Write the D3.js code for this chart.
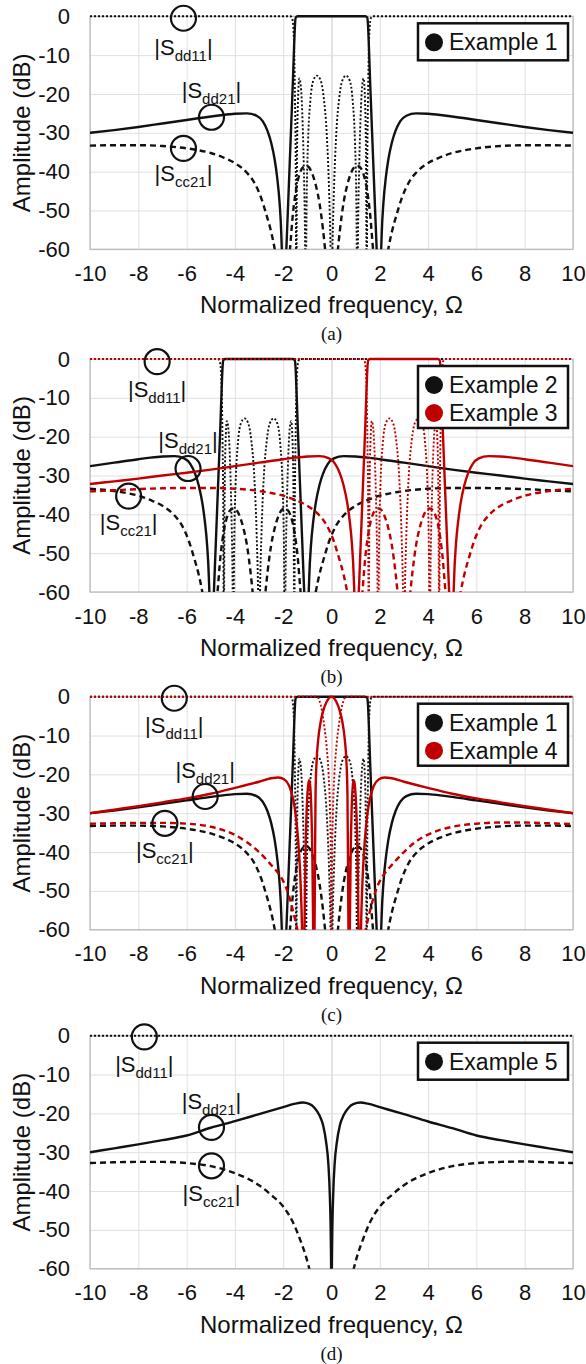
<!DOCTYPE html>
<html>
  <head>
    <meta charset="UTF-8">
    <title>Filter responses</title>
    <style>
      body { margin: 0; background: #fff; }
      text { font-family: "Liberation Sans", Arial, sans-serif; fill: #111; }
    </style>
  </head>
  <body>
    <script src="https://d3js.org/d3.v7.min.js"></script>
    <svg width="586" height="1364" id="chart"></svg>
    <script>

      // tick values
      var xTicks = [-10, -8, -6, -4, -2, 0, 2, 4, 6, 8, 10];
      var yTicks = [0, -10, -20, -30, -40, -50, -60];

      var ex1Sdd11 = [[-10,0],[-1.7,0],[-1.63,-0.5],[-1.58,-3],[-1.54,-10],[-1.51,-22],[-1.48,-40],[-1.46,-75],[-1.43,-38],[-1.39,-22],[-1.33,-16],[-1.27,-18],[-1.21,-25],[-1.15,-38],[-1.1,-55],[-1.07,-75],[-1.03,-48],[-0.97,-32],[-0.88,-22],[-0.75,-16.5],[-0.6,-15.3],[-0.45,-16.5],[-0.32,-21],[-0.2,-30],[-0.1,-45],[-0.04,-60],[0,-80],[0.04,-60],[0.1,-45],[0.2,-30],[0.32,-21],[0.45,-16.5],[0.6,-15.3],[0.75,-16.5],[0.88,-22],[0.97,-32],[1.03,-48],[1.07,-75],[1.1,-55],[1.15,-38],[1.21,-25],[1.27,-18],[1.33,-16],[1.39,-22],[1.43,-38],[1.46,-75],[1.48,-40],[1.51,-22],[1.54,-10],[1.58,-3],[1.63,-0.5],[1.7,0],[10,0]];
      var ex1Sdd21 = [[-10,-30.0],[-9,-29.3],[-8,-28.5],[-7,-27.6],[-6,-26.7],[-5,-25.8],[-4.5,-25.4],[-4,-25.1],[-3.5,-25.0],[-3.1,-25.6],[-2.85,-27],[-2.65,-29.5],[-2.5,-32.5],[-2.35,-37],[-2.25,-41.5],[-2.15,-48],[-2.08,-56],[-2.03,-68],[-2,-85],[-1.95,-72],[-1.87,-60],[-1.8,-49],[-1.7,-33],[-1.6,-17],[-1.55,-8],[-1.51,-2],[-1.48,-0.3],[-1.4,0],[1.4,0],[1.48,-0.3],[1.51,-2],[1.55,-8],[1.6,-17],[1.7,-33],[1.8,-49],[1.87,-60],[1.95,-72],[2,-85],[2.03,-68],[2.08,-56],[2.15,-48],[2.25,-41.5],[2.35,-37],[2.5,-32.5],[2.65,-29.5],[2.85,-27],[3.1,-25.6],[3.5,-25.0],[4,-25.1],[4.5,-25.4],[5,-25.8],[6,-26.7],[7,-27.6],[8,-28.5],[9,-29.3],[10,-30.0]];
      var ex1Scc21 = [[-10,-33.3],[-9,-33.2],[-8,-33.2],[-7,-33.4],[-6,-34.0],[-5.5,-34.5],[-5,-35.2],[-4.5,-36.3],[-4,-37.8],[-3.5,-40.3],[-3.2,-42.8],[-2.9,-47],[-2.7,-51],[-2.5,-55.5],[-2.35,-60],[-2.25,-64],[-2,-80],[-1.85,-68],[-1.72,-60],[-1.6,-51],[-1.45,-44],[-1.3,-40.2],[-1.15,-38.7],[-1.05,-38.5],[-0.95,-38.8],[-0.8,-40.5],[-0.65,-43.5],[-0.5,-48],[-0.35,-55],[-0.25,-61],[-0.12,-70],[0,-80],[0.12,-70],[0.25,-61],[0.35,-55],[0.5,-48],[0.65,-43.5],[0.8,-40.5],[0.95,-38.8],[1.05,-38.5],[1.15,-38.7],[1.3,-40.2],[1.45,-44],[1.6,-51],[1.72,-60],[1.85,-68],[2,-80],[2.25,-64],[2.35,-60],[2.5,-55.5],[2.7,-51],[2.9,-47],[3.2,-42.8],[3.5,-40.3],[4,-37.8],[4.5,-36.3],[5,-35.2],[5.5,-34.5],[6,-34.0],[7,-33.4],[8,-33.2],[9,-33.2],[10,-33.3]];

      // Example 2 (panel b, black)
      var ex2Sdd11 = [[-10,0],[-4.7,0],[-4.63,-0.5],[-4.58,-3],[-4.54,-10],[-4.51,-22],[-4.48,-40],[-4.46,-75],[-4.43,-38],[-4.39,-22],[-4.33,-16],[-4.27,-18],[-4.21,-25],[-4.15,-38],[-4.1,-55],[-4.07,-75],[-4.03,-48],[-3.97,-32],[-3.88,-22],[-3.75,-16.5],[-3.6,-15.3],[-3.45,-16.5],[-3.32,-21],[-3.2,-30],[-3.1,-45],[-3.04,-60],[-3,-80],[-2.96,-60],[-2.9,-45],[-2.8,-30],[-2.68,-21],[-2.55,-16.5],[-2.4,-15.3],[-2.25,-16.5],[-2.12,-22],[-2.03,-32],[-1.97,-48],[-1.93,-75],[-1.9,-55],[-1.85,-38],[-1.79,-25],[-1.73,-18],[-1.67,-16],[-1.61,-22],[-1.57,-38],[-1.54,-75],[-1.52,-40],[-1.49,-22],[-1.46,-10],[-1.42,-3],[-1.37,-0.5],[-1.3,0],[10,0]];
      var ex2Sdd21 = [[-10,-27.6],[-9,-26.7],[-8,-25.8],[-7.5,-25.4],[-7,-25.1],[-6.5,-25.0],[-6.1,-25.6],[-5.85,-27],[-5.65,-29.5],[-5.5,-32.5],[-5.35,-37],[-5.25,-41.5],[-5.15,-48],[-5.08,-56],[-5.03,-68],[-5,-85],[-4.95,-72],[-4.87,-60],[-4.8,-49],[-4.7,-33],[-4.6,-17],[-4.55,-8],[-4.51,-2],[-4.48,-0.3],[-4.4,0],[-1.6,0],[-1.52,-0.3],[-1.49,-2],[-1.45,-8],[-1.4,-17],[-1.3,-33],[-1.2,-49],[-1.13,-60],[-1.05,-72],[-1,-85],[-0.97,-68],[-0.92,-56],[-0.85,-48],[-0.75,-41.5],[-0.65,-37],[-0.5,-32.5],[-0.35,-29.5],[-0.15,-27],[0.1,-25.6],[0.5,-25.0],[1,-25.1],[1.5,-25.4],[2,-25.8],[3,-26.7],[4,-27.6],[5,-28.5],[6,-29.3],[7,-30.0],[8,-30.8],[9,-31.5],[10,-32.2]];
      var ex2Scc21 = [[-10,-33.4],[-9,-34.0],[-8.5,-34.5],[-8,-35.2],[-7.5,-36.3],[-7,-37.8],[-6.5,-40.3],[-6.2,-42.8],[-5.9,-47],[-5.7,-51],[-5.5,-55.5],[-5.35,-60],[-5.25,-64],[-5,-80],[-4.85,-68],[-4.72,-60],[-4.6,-51],[-4.45,-44],[-4.3,-40.2],[-4.15,-38.7],[-4.05,-38.5],[-3.95,-38.8],[-3.8,-40.5],[-3.65,-43.5],[-3.5,-48],[-3.35,-55],[-3.25,-61],[-3.12,-70],[-3,-80],[-2.88,-70],[-2.75,-61],[-2.65,-55],[-2.5,-48],[-2.35,-43.5],[-2.2,-40.5],[-2.05,-38.8],[-1.95,-38.5],[-1.85,-38.7],[-1.7,-40.2],[-1.55,-44],[-1.4,-51],[-1.28,-60],[-1.15,-68],[-1,-80],[-0.75,-64],[-0.65,-60],[-0.5,-55.5],[-0.3,-51],[-0.1,-47],[0.2,-42.8],[0.5,-40.3],[1,-37.8],[1.5,-36.3],[2,-35.2],[2.5,-34.5],[3,-34.0],[4,-33.4],[5,-33.2],[6,-33.2],[7,-33.3],[8,-33.5],[9,-33.8],[10,-34.1]];

      // Example 3 (panel b, red)
      var ex3Sdd11 = [[-10,0],[1.3,0],[1.37,-0.5],[1.42,-3],[1.46,-10],[1.49,-22],[1.52,-40],[1.54,-75],[1.57,-38],[1.61,-22],[1.67,-16],[1.73,-18],[1.79,-25],[1.85,-38],[1.9,-55],[1.93,-75],[1.97,-48],[2.03,-32],[2.12,-22],[2.25,-16.5],[2.4,-15.3],[2.55,-16.5],[2.68,-21],[2.8,-30],[2.9,-45],[2.96,-60],[3,-80],[3.04,-60],[3.1,-45],[3.2,-30],[3.32,-21],[3.45,-16.5],[3.6,-15.3],[3.75,-16.5],[3.88,-22],[3.97,-32],[4.03,-48],[4.07,-75],[4.1,-55],[4.15,-38],[4.21,-25],[4.27,-18],[4.33,-16],[4.39,-22],[4.43,-38],[4.46,-75],[4.48,-40],[4.51,-22],[4.54,-10],[4.58,-3],[4.63,-0.5],[4.7,0],[10,0]];
      var ex3Sdd21 = [[-10,-32.2],[-9,-31.5],[-8,-30.8],[-7,-30.0],[-6,-29.3],[-5,-28.5],[-4,-27.6],[-3,-26.7],[-2,-25.8],[-1.5,-25.4],[-1,-25.1],[-0.5,-25.0],[-0.1,-25.6],[0.15,-27],[0.35,-29.5],[0.5,-32.5],[0.65,-37],[0.75,-41.5],[0.85,-48],[0.92,-56],[0.97,-68],[1,-85],[1.05,-72],[1.13,-60],[1.2,-49],[1.3,-33],[1.4,-17],[1.45,-8],[1.49,-2],[1.52,-0.3],[1.6,0],[4.4,0],[4.48,-0.3],[4.51,-2],[4.55,-8],[4.6,-17],[4.7,-33],[4.8,-49],[4.87,-60],[4.95,-72],[5,-85],[5.03,-68],[5.08,-56],[5.15,-48],[5.25,-41.5],[5.35,-37],[5.5,-32.5],[5.65,-29.5],[5.85,-27],[6.1,-25.6],[6.5,-25.0],[7,-25.1],[7.5,-25.4],[8,-25.8],[9,-26.7],[10,-27.6]];
      var ex3Scc21 = [[-10,-34.1],[-9,-33.8],[-8,-33.5],[-7,-33.3],[-6,-33.2],[-5,-33.2],[-4,-33.4],[-3,-34.0],[-2.5,-34.5],[-2,-35.2],[-1.5,-36.3],[-1,-37.8],[-0.5,-40.3],[-0.2,-42.8],[0.1,-47],[0.3,-51],[0.5,-55.5],[0.65,-60],[0.75,-64],[1,-80],[1.15,-68],[1.28,-60],[1.4,-51],[1.55,-44],[1.7,-40.2],[1.85,-38.7],[1.95,-38.5],[2.05,-38.8],[2.2,-40.5],[2.35,-43.5],[2.5,-48],[2.65,-55],[2.75,-61],[2.88,-70],[3,-80],[3.12,-70],[3.25,-61],[3.35,-55],[3.5,-48],[3.65,-43.5],[3.8,-40.5],[3.95,-38.8],[4.05,-38.5],[4.15,-38.7],[4.3,-40.2],[4.45,-44],[4.6,-51],[4.72,-60],[4.85,-68],[5,-80],[5.25,-64],[5.35,-60],[5.5,-55.5],[5.7,-51],[5.9,-47],[6.2,-42.8],[6.5,-40.3],[7,-37.8],[7.5,-36.3],[8,-35.2],[8.5,-34.5],[9,-34.0],[10,-33.4]];

      // Example 4 (panel c, red)
      var ex4Sdd11 = [[-10,0],[-0.6,0],[-0.5,-1],[-0.4,-3.5],[-0.3,-7.5],[-0.2,-13],[-0.12,-20],[-0.06,-30],[-0.02,-45],[0,-80],[0.02,-45],[0.06,-30],[0.12,-20],[0.2,-13],[0.3,-7.5],[0.4,-3.5],[0.5,-1],[0.6,0],[10,0]];
      var ex4Sdd21 = [[-10,-30.0],[-9,-29.1],[-8,-28.2],[-7,-27.2],[-6,-26.2],[-5,-25.0],[-4,-23.5],[-3,-21.9],[-2.5,-21.0],[-2.2,-20.8],[-1.95,-21.3],[-1.75,-23],[-1.6,-26],[-1.48,-30.5],[-1.38,-37],[-1.3,-45],[-1.24,-55],[-1.19,-68],[-1.16,-80],[-1.12,-60],[-1.08,-42],[-1.02,-28],[-0.96,-22.5],[-0.92,-21.5],[-0.88,-23],[-0.83,-30],[-0.79,-42],[-0.76,-60],[-0.73,-75],[-0.7,-58],[-0.68,-40],[-0.66,-25],[-0.62,-17],[-0.55,-11],[-0.45,-6.5],[-0.35,-3.8],[-0.2,-1.3],[0,0],[0.2,-1.3],[0.35,-3.8],[0.45,-6.5],[0.55,-11],[0.62,-17],[0.66,-25],[0.68,-40],[0.7,-58],[0.73,-75],[0.76,-60],[0.79,-42],[0.83,-30],[0.88,-23],[0.92,-21.5],[0.96,-22.5],[1.02,-28],[1.08,-42],[1.12,-60],[1.16,-80],[1.19,-68],[1.24,-55],[1.3,-45],[1.38,-37],[1.48,-30.5],[1.6,-26],[1.75,-23],[1.95,-21.3],[2.2,-20.8],[2.5,-21.0],[3,-21.9],[4,-23.5],[5,-25.0],[6,-26.2],[7,-27.2],[8,-28.2],[9,-29.1],[10,-30.0]];
      var ex4Scc21 = [[-10,-32.7],[-9,-32.6],[-8,-32.5],[-7,-32.5],[-6,-32.7],[-5,-33.5],[-4,-35.6],[-3.5,-37.5],[-3,-40],[-2.5,-43.3],[-2.2,-45.5],[-2,-47.5],[-1.8,-50.5],[-1.6,-55],[-1.45,-59],[-1.35,-62],[-1.2,-70],[0,-90],[1.2,-70],[1.35,-62],[1.45,-59],[1.6,-55],[1.8,-50.5],[2,-47.5],[2.2,-45.5],[2.5,-43.3],[3,-40],[3.5,-37.3],[4,-35.5],[5,-33.5],[6,-32.7],[7,-32.4],[8,-32.4],[9,-32.6],[10,-32.8]];

      // Example 5 (panel d)
      var ex5Sdd11 = [[-10,0],[10,0]];
      var ex5Sdd21 = [[-10,-30.0],[-9,-29.0],[-8,-28.0],[-7,-26.9],[-6,-25.7],[-5,-23.7],[-4,-22.0],[-3,-20.2],[-2,-18.4],[-1.5,-17.5],[-1.2,-17.2],[-0.9,-17.6],[-0.7,-18.6],[-0.5,-20.5],[-0.35,-23],[-0.22,-27.5],[-0.13,-33],[-0.07,-41],[-0.03,-52],[-0.01,-65],[0,-90],[0.01,-65],[0.03,-52],[0.07,-41],[0.13,-33],[0.22,-27.5],[0.35,-23],[0.5,-20.5],[0.7,-18.6],[0.9,-17.6],[1.2,-17.2],[1.5,-17.5],[2,-18.4],[3,-20.2],[4,-22.1],[5,-23.8],[6,-25.7],[7,-26.9],[8,-28.0],[9,-29.0],[10,-30.0]];
      var ex5Scc21 = [[-10,-32.8],[-9,-32.6],[-8,-32.5],[-7,-32.5],[-6,-32.8],[-5,-33.6],[-4,-35.4],[-3,-38.5],[-2.5,-41],[-2,-44],[-1.6,-48],[-1.3,-52.5],[-1.05,-57],[-0.9,-60.5],[-0.7,-66],[0,-90],[0.7,-66],[0.9,-60.5],[1.05,-57],[1.3,-52.5],[1.6,-48],[2,-44],[2.5,-41],[3,-38.5],[4,-35.4],[5,-33.6],[6,-32.8],[7,-32.5],[8,-32.4],[9,-32.6],[10,-32.8]];

      var BLACK = "#111", RED = "#c00000";

      // panel setup: data series, legend, annotation spots (in data units)
      var panels = [
        { top: 16.3, caption: "(a)",
          series: [[ex1Scc21, "dash", BLACK], [ex1Sdd21, "solid", BLACK], [ex1Sdd11, "dot", BLACK]],
          legend: [["Example 1", BLACK]],
          notes: { dd11: [-6.13, -0.5, -7.8], dd21: [-4.97, -26, -19], cc21: [-6.13, -34, -40.4] } },
        { top: 359, caption: "(b)",
          series: [[ex2Scc21, "dash", BLACK], [ex2Sdd21, "solid", BLACK], [ex2Sdd11, "dot", BLACK],
                   [ex3Scc21, "dash", RED], [ex3Sdd21, "solid", RED], [ex3Sdd11, "dot", RED]],
          legend: [["Example 2", BLACK], ["Example 3", RED]],
          notes: { dd11: [-7.22, -0.7, -7.6], dd21: [-5.94, -28.2, -20.9], cc21: [-8.4, -35.3, -42] } },
        { top: 696.7, caption: "(c)",
          series: [[ex1Scc21, "dash", BLACK], [ex1Sdd21, "solid", BLACK], [ex1Sdd11, "dot", BLACK],
                   [ex4Scc21, "dash", RED], [ex4Sdd21, "solid", RED], [ex4Sdd11, "dot", RED]],
          legend: [["Example 1", BLACK], ["Example 4", RED]],
          notes: { dd11: [-6.51, -0.4, -7.3], dd21: [-5.23, -25.7, -18.9], cc21: [-6.9, -32.6, -39.4] } },
        { top: 1035.7, caption: "(d)",
          series: [[ex5Scc21, "dash", BLACK], [ex5Sdd21, "solid", BLACK], [ex5Sdd11, "dot", BLACK]],
          legend: [["Example 5", BLACK]],
          notes: { dd11: [-7.75, -0.3, -7.2], dd21: [-4.97, -23.6, -16.7], cc21: [-4.97, -33.5, -40.4] } }
      ];

      var svg = d3.select("#chart");
      var L = 90, R = 573, PH = 233;

      var x = d3.scaleLinear().domain([-10, 10]).range([L, R]);

      var dashes = { solid: null, dash: "6,4", dot: "2,2" };

      panels.forEach(function(p, pi) {
        var y = d3.scaleLinear().domain([-60, 0]).range([p.top + PH, p.top]);
        var g = svg.append("g");

        // grid
        g.append("g")
          .attr("transform", "translate(0," + (p.top + PH) + ")")
          .call(d3.axisBottom(x).tickValues(xTicks).tickSize(-PH).tickFormat(""))
          .call(function(a) {
            a.select(".domain").remove();
            a.selectAll("line").attr("stroke", function(d) { return d === 0 ? "#c4c4c4" : "#e0e0e0"; });
          });
        g.append("g")
          .attr("transform", "translate(" + L + ",0)")
          .call(d3.axisLeft(y).tickValues(yTicks).tickSize(-(R - L)).tickFormat(""))
          .call(function(a) {
            a.select(".domain").remove();
            a.selectAll("line").attr("stroke", "#e0e0e0");
          });
        g.append("rect")
          .attr("x", L).attr("y", p.top).attr("width", R - L).attr("height", PH)
          .attr("fill", "none").attr("stroke", "#bdbdbd").attr("stroke-width", 1.3);

        // tick labels
        g.append("g")
          .attr("transform", "translate(" + L + ",0)")
          .call(d3.axisLeft(y).tickValues(yTicks).tickSize(0).tickPadding(20).tickFormat(function(d) { return String(d); }))
          .call(function(a) {
            a.select(".domain").remove();
            a.selectAll("text").style("font-size", "22px").attr("fill", "#111");
          });
        g.append("g")
          .attr("transform", "translate(0," + (p.top + PH) + ")")
          .call(d3.axisBottom(x).tickValues(xTicks).tickSize(0).tickPadding(16).tickFormat(function(d) { return String(d); }))
          .call(function(a) {
            a.select(".domain").remove();
            a.selectAll("text").style("font-size", "22px").attr("fill", "#111");
          });

        // axis titles + caption
        g.append("text")
          .attr("transform", "translate(22," + (p.top + PH / 2) + ") rotate(-90)")
          .attr("text-anchor", "middle").attr("dy", "0.35em")
          .style("font-size", "24px")
          .text("Amplitude (dB)");
        g.append("text")
          .attr("x", (L + R) / 2).attr("y", p.top + PH + 64)
          .attr("text-anchor", "middle").style("font-size", "24px")
          .text("Normalized frequency, \u03A9");
        g.append("text")
          .attr("x", (L + R) / 2).attr("y", p.top + PH + 91)
          .attr("text-anchor", "middle")
          .style("font-family", "'Liberation Serif', 'Times New Roman', serif").style("font-size", "19px")
          .text(p.caption);

        // curves, clipped to the plot area
        var clipId = "clip" + pi;
        svg.append("clipPath").attr("id", clipId)
          .append("rect").attr("x", L).attr("y", p.top - 3).attr("width", R - L).attr("height", PH + 3);

        var line = d3.line()
          .x(function(d) { return x(d[0]); })
          .y(function(d) { return y(d[1]); })
          .curve(d3.curveMonotoneX);

        var curves = g.append("g").attr("clip-path", "url(#" + clipId + ")");
        p.series.forEach(function(s) {
          curves.append("path")
            .attr("d", line(s[0]))
            .attr("fill", "none")
            .attr("stroke", s[2])
            .attr("stroke-width", s[1] === "dot" ? 1.9 : 2.4)
            .attr("stroke-dasharray", dashes[s[1]]);
        });

        // annotations: circle on the curve + label
        var names = ["dd11", "dd21", "cc21"];
        names.forEach(function(k) {
          var n = p.notes[k];
          g.append("circle")
            .attr("cx", x(n[0])).attr("cy", y(n[1])).attr("r", 12.5)
            .attr("fill", "none").attr("stroke", "#111").attr("stroke-width", 2.2);
          var t = g.append("text")
            .attr("x", x(n[0])).attr("y", y(n[2]) + 8)
            .attr("text-anchor", "middle").style("font-size", "22px");
          t.append("tspan").text("|S");
          t.append("tspan").attr("dy", 6).style("font-size", "15px").text(k);
          t.append("tspan").attr("dy", -6).text("|");
        });

        // legend
        var nItems = p.legend.length;
        var bx = R - 155, by = p.top + 7, bw = 150, bh = 12 + 25 * nItems;
        g.append("rect")
          .attr("x", bx).attr("y", by).attr("width", bw).attr("height", bh)
          .attr("fill", "#fff").attr("stroke", "#111").attr("stroke-width", 2.5);
        p.legend.forEach(function(item, i) {
          var iy = by + 19 + 28 * i;
          g.append("circle").attr("cx", bx + 16).attr("cy", iy).attr("r", 9).attr("fill", item[1]);
          g.append("text").attr("x", bx + 31).attr("y", iy + 8).style("font-size", "23px").text(item[0]);
        });
      });
    </script>
  </body>
</html>
